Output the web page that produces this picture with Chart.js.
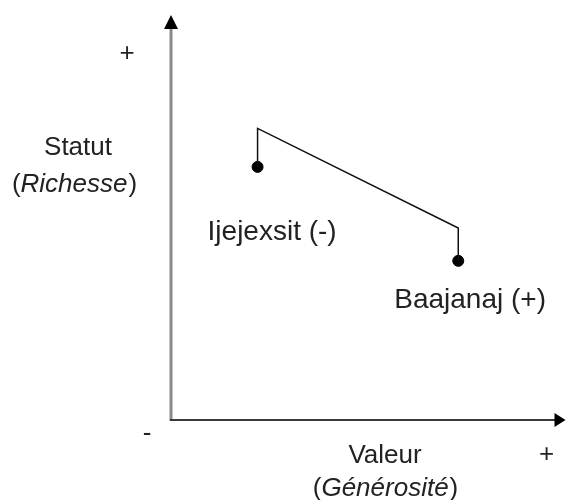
<!DOCTYPE html>
<html>
<head>
<meta charset="utf-8">
<script src="https://cdn.jsdelivr.net/npm/chart.js@4/dist/chart.umd.min.js"></script>
<style>
  html, body { margin: 0; padding: 0; background: #fff; }
  #wrap { width: 571px; height: 500px; position: relative; }
</style>
</head>
<body>
<div id="wrap"><canvas id="chart"></canvas></div>
<script>
// groups and their position on the value / status plane (0-100)
const groups = ['Ijejexsit (-)', 'Baajanaj (+)'];
const valeur = [22, 73];
const statut = [62.5, 39.3];

// the bracket that links the two groups
const bracketX = [22, 22, 73, 73];
const bracketY = [62.5, 72, 47.4, 39.3];

const FONT = '"Liberation Sans", Arial, sans-serif';
const SIZE = 26;
const TEXT = '#222';

const axesPlugin = {
    id: 'axes',
    afterDatasetsDraw(chart) {
        const { ctx, scales: { x, y } } = chart;
        const x0 = x.getPixelForValue(0), x1 = x.getPixelForValue(100);
        const y0 = y.getPixelForValue(0), y1 = y.getPixelForValue(100);

        ctx.save();
        // vertical axis
        ctx.strokeStyle = '#8a8a8a';
        ctx.lineWidth = 3;
        ctx.beginPath();
        ctx.moveTo(x0, y0 + 1);
        ctx.lineTo(x0, y1 + 10);
        ctx.stroke();
        // horizontal axis
        ctx.strokeStyle = '#3a3a3a';
        ctx.lineWidth = 2;
        ctx.beginPath();
        ctx.moveTo(x0 - 1, y0);
        ctx.lineTo(x1 - 8, y0);
        ctx.stroke();

        // arrow heads
        ctx.fillStyle = '#000';
        ctx.beginPath();
        ctx.moveTo(x0, y1);
        ctx.lineTo(x0 - 7, y1 + 14);
        ctx.lineTo(x0 + 7, y1 + 14);
        ctx.closePath();
        ctx.fill();
        ctx.beginPath();
        ctx.moveTo(x1 + 1, y0);
        ctx.lineTo(x1 - 10, y0 - 7);
        ctx.lineTo(x1 - 10, y0 + 7);
        ctx.closePath();
        ctx.fill();

        // axis texts
        ctx.fillStyle = TEXT;
        ctx.textAlign = 'center';
        ctx.textBaseline = 'alphabetic';
        ctx.font = SIZE + 'px ' + FONT;
        ctx.fillText('+', x0 - 44, y1 + 46);
        ctx.fillText('-', x0 - 24, y0 + 21);
        ctx.fillText('+', x1 - 18, y0 + 42);
        ctx.fillText('Statut', x0 - 93, y1 + 140);
        ctx.fillText('Valeur', x0 + 214, y0 + 43);

        drawParen(ctx, 'Richesse', x0 - 97, y1 + 177);
        drawParen(ctx, 'Générosité', x0 + 214, y0 + 76);

        // group labels, placed from their points
        ctx.textAlign = 'left';
        ctx.font = '28px ' + FONT;
        const offs = [[-50, 73], [-64, 47]];
        groups.forEach((g, i) => {
            const px = x.getPixelForValue(valeur[i]);
            const py = y.getPixelForValue(statut[i]);
            ctx.fillText(g, px + offs[i][0], py + offs[i][1]);
        });
        ctx.restore();
    }
};

// "(word)" with the word in italics, centred on cx
function drawParen(ctx, word, cx, by) {
    const up = SIZE + 'px ' + FONT, it = 'italic ' + SIZE + 'px ' + FONT;
    ctx.font = up;
    const pw = ctx.measureText('(').width;
    const cw = ctx.measureText(')').width;
    ctx.font = it;
    const ww = ctx.measureText(word).width;
    let left = cx - (pw + ww + cw) / 2;
    ctx.textAlign = 'left';
    ctx.font = up;
    ctx.fillText('(', left, by);
    ctx.font = it;
    ctx.fillText(word, left + pw, by);
    ctx.font = up;
    ctx.fillText(')', left + pw + ww + 1, by);
    ctx.textAlign = 'center';
}

new Chart(document.getElementById('chart'), {
    type: 'scatter',
    data: {
        datasets: [
            {
                label: 'bracket',
                data: bracketX.map((v, i) => ({ x: v, y: bracketY[i] })),
                showLine: true,
                borderColor: '#111',
                borderWidth: 1.5,
                pointRadius: 0,
                tension: 0
            },
            {
                label: 'groupes',
                data: valeur.map((v, i) => ({ x: v, y: statut[i] })),
                backgroundColor: '#000',
                borderColor: '#000',
                pointRadius: 5.5
            }
        ]
    },
    options: {
        responsive: true,
        maintainAspectRatio: false,
        animation: false,
        layout: { padding: { left: 171, right: 1, top: 15, bottom: 80 } },
        plugins: { legend: { display: false }, tooltip: { enabled: false } },
        scales: {
            x: { type: 'linear', min: 0, max: 100, display: false },
            y: { type: 'linear', min: 0, max: 100, display: false }
        }
    },
    plugins: [axesPlugin]
});
</script>
</body>
</html>
